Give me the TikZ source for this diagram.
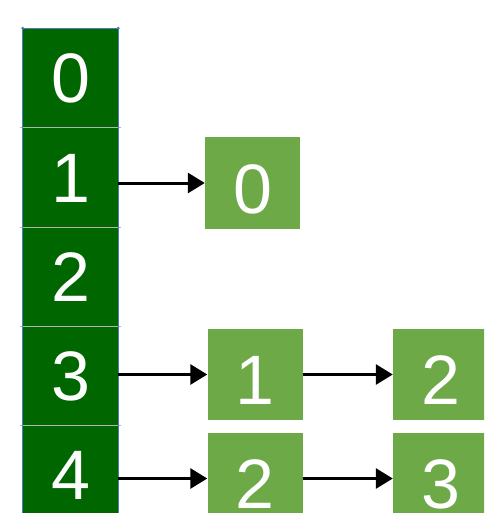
\documentclass[tikz,border=0pt]{standalone}
\usepackage{fontspec}
\setmainfont{Liberation Sans}
\usetikzlibrary{arrows.meta}
\definecolor{dkgreen}{HTML}{006600}
\definecolor{ltgreen}{HTML}{6DA947}
\definecolor{edgeblue}{HTML}{4A7EBB}
\definecolor{sepgray}{HTML}{B4B4B4}
\tikzset{
  cell/.style={rectangle, fill=dkgreen, text=white, inner sep=0pt,
    minimum width=95pt, minimum height=99pt,
    font=\fontsize{70}{70}\selectfont, text height=50pt, text depth=0pt},
  entry/.style={rectangle, fill=ltgreen, text=white, inner sep=0pt,
    minimum width=95pt, minimum height=91pt,
    font=\fontsize{70}{70}\selectfont, text height=60pt, text depth=0pt},
  link/.style={draw=black, line width=3pt, -{Triangle[length=17pt,width=20pt]}},
  sep/.style={draw=sepgray, line width=1pt},
  side/.style={draw=edgeblue, line width=0.8pt}
}
\begin{document}
\begin{tikzpicture}[x=1pt,y=-1pt]
\useasboundingbox (0,0) rectangle (484,513);
\clip (0,0) rectangle (484,513);
% column cells
\node[cell] (c0) at (70.5,78) {0};
\node[cell] (c1) at (70.5,177.5) {1};
\node[cell] (c2) at (70.5,276.5) {2};
\node[cell] (c3) at (70.5,375.5) {3};
\node[cell] (c4) at (70.5,474.5) {4};
% separators
\foreach \a/\b in {c0/c1,c1/c2,c2/c3,c3/c4}{
  \draw[sep] ([xshift=-3pt]\a.south west) -- ([xshift=3pt]\a.south east);
}
% side edges
\draw[side] (c0.north west) -- (c4.south west);
\draw[side] (c0.north east) -- (c4.south east);
\draw[side] (c0.north west) -- (c0.north east);
\fill[edgeblue] (c0.north west) circle (1.6pt);
\fill[edgeblue] (c0.north east) circle (1.6pt);
% list entries
\node[entry] (b0) at (252.5,183) {0};
\node[entry] (b1) at (255,374.5) {1};
\node[entry] (b2) at (440.5,374.5) {2};
\node[entry] (d2) at (255,478.5) {2};
\node[entry] (d3) at (440.5,478.5) {3};
% links
\draw[link] (c1.east |- b0.west) -- (b0.west);
\draw[link] (c3.east |- b1.west) -- (b1.west);
\draw[link] (b1.east) -- (b2.west);
\draw[link] (c4.east |- d2.west) -- (d2.west);
\draw[link] (d2.east) -- (d3.west);
\end{tikzpicture}
\end{document}
